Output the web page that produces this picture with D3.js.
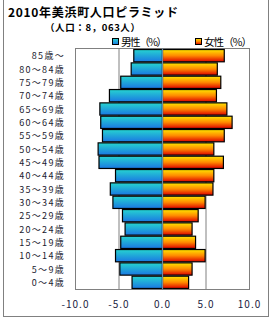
<!DOCTYPE html>
<html>
<head>
<meta charset="utf-8">
<script src="https://cdn.jsdelivr.net/npm/d3@7"></script>
<style>
  body { margin: 0; background: #fff; }
  svg { display: block; }
</style>
</head>
<body>
<div id="chart"></div>
<script>
const ageGroups = ["85歳～", "80～84歳", "75～79歳", "70～74歳", "65～69歳", "60～64歳",
  "55～59歳", "50～54歳", "45～49歳", "40～44歳", "35～39歳", "30～34歳",
  "25～29歳", "20～24歳", "15～19歳", "10～14歳", "5～9歳", "0～4歳"];
const maleShare = [3.3, 3.6, 4.8, 6.1, 7.2, 7.1, 6.9, 7.4, 7.3, 5.4, 6.0, 5.7, 4.6, 4.3, 4.8, 5.4, 4.9, 3.5];
const femaleShare = [7.1, 6.3, 6.7, 6.2, 7.4, 8.0, 7.1, 5.9, 7.0, 5.9, 5.8, 4.9, 4.1, 3.4, 3.8, 4.9, 3.4, 3.0];
const tickValues = [-10, -5, 0, 5, 10];

const width = 270, height = 320;
const font = "'Noto Sans CJK JP', 'DejaVu Sans', sans-serif";

const svg = d3.select("#chart").append("svg")
  .attr("width", width)
  .attr("height", height);

// gradients
const defs = svg.append("defs");
const gm = defs.append("linearGradient").attr("id", "gMale")
  .attr("x1", 0).attr("y1", 0).attr("x2", 0).attr("y2", 1);
gm.append("stop").attr("offset", "0%").attr("stop-color", "#26d4d0");
gm.append("stop").attr("offset", "100%").attr("stop-color", "#1a78e2");
const gf = defs.append("linearGradient").attr("id", "gFemale")
  .attr("x1", 0).attr("y1", 0).attr("x2", 0).attr("y2", 1);
gf.append("stop").attr("offset", "0%").attr("stop-color", "#ffe600");
gf.append("stop").attr("offset", "50%").attr("stop-color", "#ff8a00");
gf.append("stop").attr("offset", "100%").attr("stop-color", "#dc0000");

// outer frame
svg.append("rect")
  .attr("x", 3.5).attr("y", -1)
  .attr("width", 265).attr("height", 317.5)
  .attr("fill", "none")
  .attr("stroke", "#808080").attr("stroke-width", 1);

// title
svg.append("text")
  .text("2010年美浜町人口ピラミッド")
  .attr("x", 8).attr("y", 16.5)
  .attr("textLength", 170).attr("lengthAdjust", "spacing")
  .attr("font-family", font).attr("font-weight", 700)
  .attr("font-size", 12).attr("fill", "#000");

svg.append("text")
  .text("（人口：8，063人）")
  .attr("x", 45).attr("y", 31)
  .attr("textLength", 95).attr("lengthAdjust", "spacing")
  .attr("font-family", font).attr("font-weight", 700)
  .attr("font-size", 9.5).attr("fill", "#000");

// legend
const legend = [
  { label: "男性（%）", fill: "url(#gMale)", x: 112, w: 46 },
  { label: "女性（%）", fill: "url(#gFemale)", x: 195, w: 48 }
];
legend.forEach(l => {
  svg.append("rect")
    .attr("x", l.x + 0.5).attr("y", 38.5)
    .attr("width", 6).attr("height", 6)
    .attr("fill", l.fill)
    .attr("stroke", "#000").attr("stroke-width", 1);
  svg.append("text")
    .text(l.label)
    .attr("x", l.x + 9).attr("y", 46)
    .attr("textLength", l.w).attr("lengthAdjust", "spacing")
    .attr("font-family", font)
    .attr("font-size", 10.5).attr("fill", "#000");
});

// scales
const x = d3.scaleLinear().domain([-10, 10]).range([75.5, 249.5]);
const y = d3.scaleBand().domain(ageGroups).range([49, 289]).paddingInner(0.08).paddingOuter(0.04);

// plot box
const g = svg.append("g");
g.append("rect")
  .attr("x", x(-10)).attr("y", 48.5)
  .attr("width", x(10) - x(-10)).attr("height", 289.5 - 48.5)
  .attr("fill", "none").attr("stroke", "#808080").attr("stroke-width", 1);

g.selectAll("line.grid")
  .data([-5, 5])
  .join("line")
  .attr("class", "grid")
  .attr("x1", d => x(d)).attr("x2", d => x(d))
  .attr("y1", 48.5).attr("y2", 289.5)
  .attr("stroke", "#808080").attr("stroke-width", 1);

// bars
g.selectAll("rect.male")
  .data(ageGroups)
  .join("rect")
  .attr("class", "male")
  .attr("x", (d, i) => x(-maleShare[i]))
  .attr("y", d => y(d))
  .attr("width", (d, i) => x(0) - x(-maleShare[i]))
  .attr("height", y.bandwidth())
  .attr("fill", "url(#gMale)")
  .attr("stroke", "#000").attr("stroke-width", 1.2);

g.selectAll("rect.female")
  .data(ageGroups)
  .join("rect")
  .attr("class", "female")
  .attr("x", x(0))
  .attr("y", d => y(d))
  .attr("width", (d, i) => x(femaleShare[i]) - x(0))
  .attr("height", y.bandwidth())
  .attr("fill", "url(#gFemale)")
  .attr("stroke", "#000").attr("stroke-width", 1.2);

// zero line
g.append("line")
  .attr("x1", x(0)).attr("x2", x(0))
  .attr("y1", 48.5).attr("y2", 289.5)
  .attr("stroke", "#6f8aa0").attr("stroke-width", 1.2);

// category labels
g.selectAll("text.cat")
  .data(ageGroups)
  .join("text")
  .attr("class", "cat")
  .text(d => d)
  .attr("x", 65)
  .attr("y", d => y(d) + y.bandwidth() / 2 + 3.5)
  .attr("text-anchor", "end")
  .attr("font-family", font)
  .attr("font-size", 9)
  .style("letter-spacing", "1.3px")
  .attr("fill", "#1a1a2e");

// x tick labels
g.selectAll("text.tick")
  .data(tickValues)
  .join("text")
  .attr("class", "tick")
  .text(d => d3.format(".1f")(d).replace("−", "-"))
  .attr("x", d => x(d))
  .attr("y", 308)
  .attr("text-anchor", "middle")
  .attr("font-family", font)
  .attr("font-size", 10)
  .style("letter-spacing", "1px")
  .attr("fill", "#1a1a40");
</script>
</body>
</html>
